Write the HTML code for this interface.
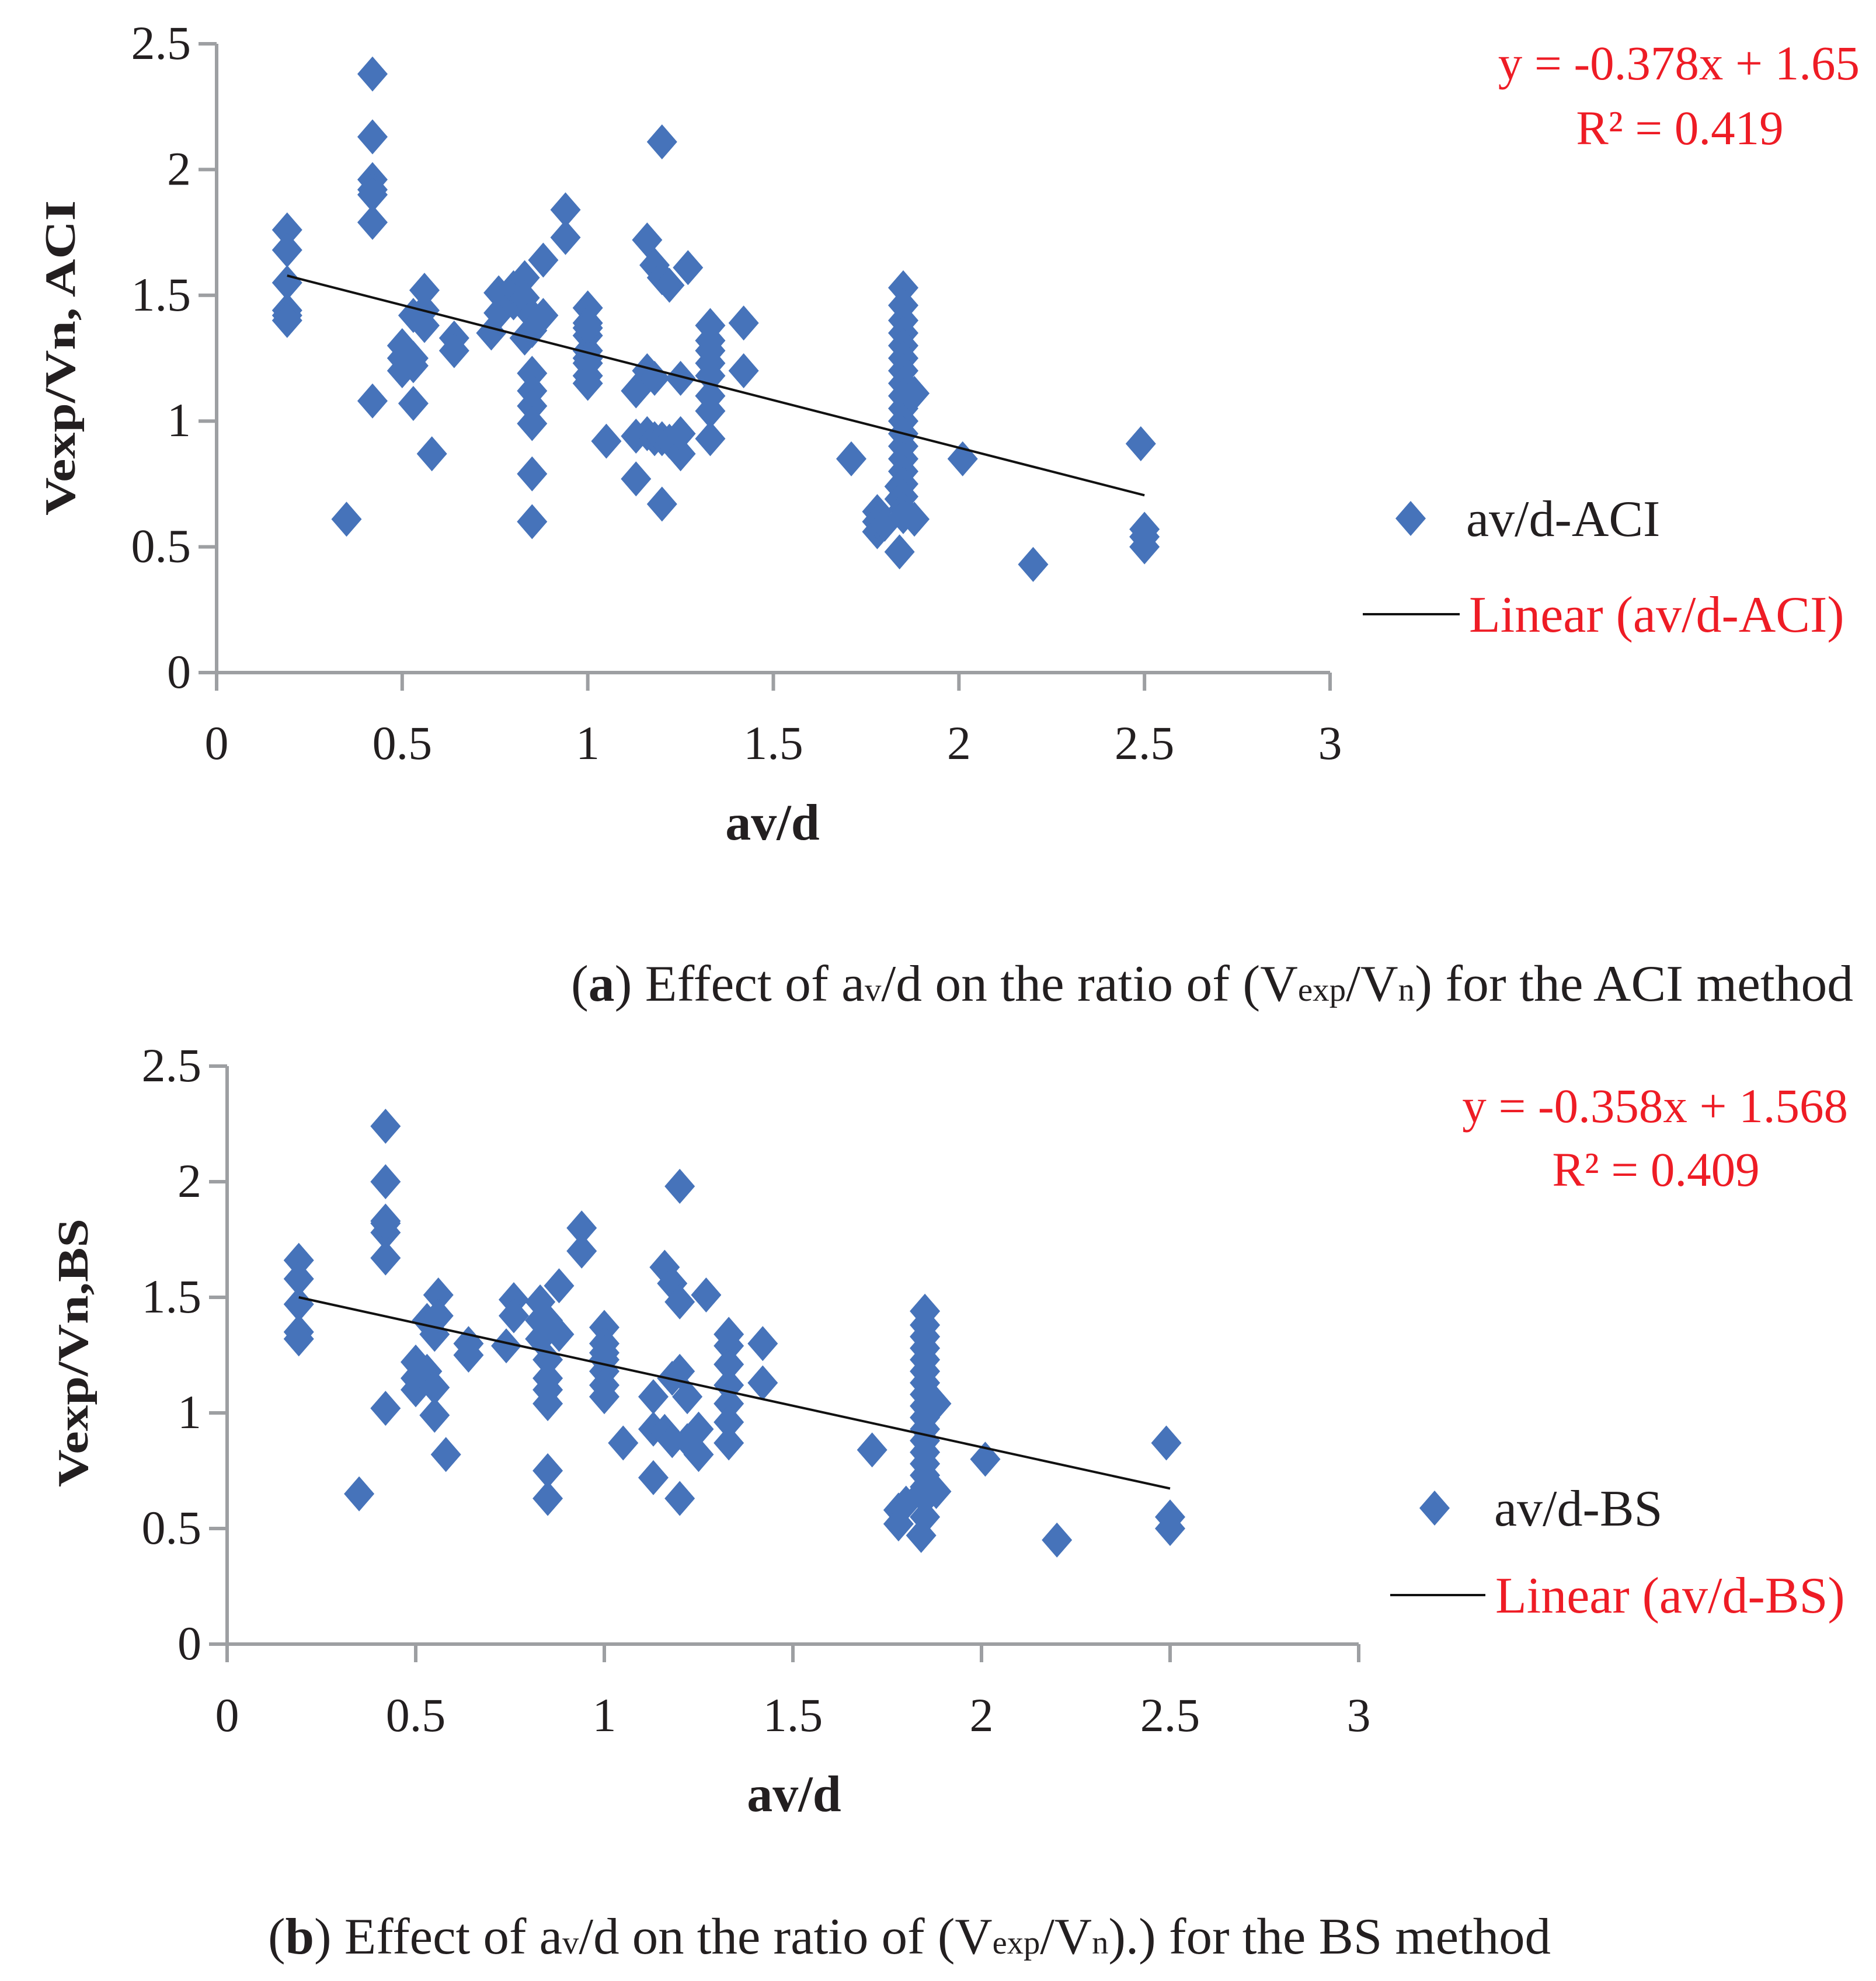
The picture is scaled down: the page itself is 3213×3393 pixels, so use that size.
<!DOCTYPE html>
<html><head><meta charset="utf-8"><style>
html,body{margin:0;padding:0;background:#fff}
svg{display:block}
text{font-family:"Liberation Serif",serif}
</style></head><body>
<svg id="fig" width="3213" height="3393" viewBox="0 0 3213 3393" xmlns="http://www.w3.org/2000/svg">
<g id="chartA"></g>
<g id="chartB"></g>
<text x="978" y="1714" font-size="88" textLength="2196" lengthAdjust="spacingAndGlyphs" fill="#231f20"><tspan>(</tspan><tspan font-weight="bold">a</tspan><tspan>) Effect of a</tspan><tspan font-size="56">v</tspan><tspan>/d on the ratio of (V</tspan><tspan font-size="56">exp</tspan><tspan>/V</tspan><tspan font-size="56">n</tspan><tspan>) for the ACI method</tspan></text>
<text x="459" y="3346" font-size="88" textLength="2197" lengthAdjust="spacingAndGlyphs" fill="#231f20"><tspan>(</tspan><tspan font-weight="bold">b</tspan><tspan>) Effect of a</tspan><tspan font-size="56">v</tspan><tspan>/d on the ratio of (V</tspan><tspan font-size="56">exp</tspan><tspan>/V</tspan><tspan font-size="56">n</tspan><tspan>).) for the BS method</tspan></text>
</svg>
<script>
// Chart A data (ACI)
const aX = [0.19,0.19,0.19,0.19,0.19,0.19,0.35,0.42,0.42,0.42,0.42,0.42,0.42,0.42,0.5,0.5,0.5,0.53,0.53,0.53,0.53,0.56,0.56,0.56,0.58,0.64,0.64,0.74,0.76,0.76,0.8,0.8,0.83,0.83,0.83,0.85,0.85,0.85,0.85,0.85,0.85,0.85,0.85,0.88,0.88,0.94,0.94,1.0,1.0,1.0,1.0,1.0,1.0,1.0,1.0,1.0,1.05,1.13,1.13,1.13,1.16,1.16,1.16,1.18,1.18,1.18,1.2,1.2,1.2,1.2,1.22,1.22,1.25,1.25,1.25,1.27,1.33,1.33,1.33,1.33,1.33,1.33,1.33,1.33,1.42,1.42,1.71,1.78,1.78,1.78,1.8,1.84,1.84,1.84,1.85,1.85,1.85,1.85,1.85,1.85,1.85,1.85,1.85,1.85,1.85,1.85,1.85,1.85,1.85,1.85,1.85,1.85,1.85,1.88,1.88,2.01,2.2,2.49,2.5,2.5,2.5];
const aY = [1.76,1.68,1.55,1.44,1.42,1.40,0.61,2.38,2.13,1.96,1.92,1.90,1.79,1.08,1.30,1.25,1.20,1.42,1.22,1.07,1.25,1.52,1.44,1.38,0.87,1.33,1.28,1.35,1.51,1.43,1.47,1.53,1.57,1.49,1.33,1.19,1.12,1.06,0.99,0.79,0.60,1.42,1.36,1.64,1.42,1.84,1.73,1.45,1.39,1.34,1.28,1.23,1.18,1.15,1.37,1.25,0.92,0.77,0.94,1.12,1.72,0.95,1.20,1.62,0.93,1.17,2.11,1.57,0.67,0.93,1.54,0.92,0.87,0.95,1.17,1.61,1.38,1.32,1.23,1.18,1.10,1.04,0.93,1.28,1.39,1.20,0.85,0.64,0.56,0.60,0.59,0.48,0.69,0.74,1.53,1.46,1.40,1.35,1.30,1.25,1.20,1.15,1.10,1.05,1.00,0.95,0.90,0.85,0.80,0.75,0.70,0.65,0.62,1.11,0.61,0.85,0.43,0.91,0.57,0.54,0.50];
const aTrend = [-0.378, 1.65];
const aEq = ["y = -0.378x + 1.65", "R² = 0.419"];
// Chart B data (BS)
const bX = [0.19,0.19,0.19,0.19,0.19,0.35,0.42,0.42,0.42,0.42,0.42,0.42,0.42,0.5,0.5,0.5,0.53,0.53,0.55,0.55,0.55,0.56,0.56,0.58,0.64,0.64,0.74,0.76,0.76,0.83,0.83,0.83,0.85,0.85,0.85,0.85,0.85,0.85,0.85,0.88,0.88,0.94,0.94,1.0,1.0,1.0,1.0,1.0,1.0,1.0,1.05,1.13,1.13,1.13,1.16,1.16,1.18,1.18,1.18,1.2,1.2,1.2,1.2,1.22,1.22,1.25,1.25,1.27,1.33,1.33,1.33,1.33,1.33,1.33,1.33,1.42,1.42,1.71,1.78,1.78,1.8,1.84,1.84,1.85,1.85,1.85,1.85,1.85,1.85,1.85,1.85,1.85,1.85,1.85,1.85,1.85,1.85,1.85,1.85,1.85,1.85,1.88,1.88,2.01,2.2,2.49,2.5,2.5];
const bY = [1.66,1.58,1.47,1.35,1.32,0.65,2.24,2.00,1.83,1.78,1.67,1.02,1.82,1.22,1.15,1.10,1.18,1.40,0.99,1.11,1.34,1.51,1.42,0.82,1.30,1.25,1.29,1.49,1.42,1.48,1.40,1.32,1.23,1.15,1.10,1.04,0.75,0.63,1.40,1.34,1.55,1.80,1.70,1.37,1.30,1.23,1.18,1.12,1.07,1.26,0.87,0.72,1.07,0.93,1.63,0.92,1.56,1.15,0.88,1.98,1.18,0.63,1.48,0.88,1.07,0.82,0.93,1.51,1.29,1.21,1.12,1.04,0.96,0.87,1.34,1.30,1.13,0.84,0.58,0.52,0.61,0.47,0.65,1.44,1.38,1.33,1.28,1.23,1.18,1.13,1.08,1.03,0.98,0.93,0.88,0.83,0.78,0.73,0.68,0.63,0.55,1.04,0.66,0.80,0.45,0.87,0.55,0.50];
const bTrend = [-0.358, 1.568];
const bEq = ["y = -0.358x + 1.568", "R² = 0.409"];
const xTicks = [0,0.5,1,1.5,2,2.5,3];
const yTicks = [0,0.5,1,1.5,2,2.5];

const NS = "http://www.w3.org/2000/svg";
function mk(parent, tag, attrs, txt){
  const e = document.createElementNS(NS, tag);
  for (const k in attrs) e.setAttribute(k, attrs[k]);
  if (txt !== undefined) e.textContent = txt;
  parent.appendChild(e);
  return e;
}
function draw(g, cfg, xs, ys, trend, eq){
  const sx = v => cfg.x0 + (cfg.x3 - cfg.x0) * v / 3;
  const sy = v => cfg.y0 - (cfg.y0 - cfg.yTop) * v / 2.5;
  const ax = mk(g,'line',{x1:cfg.x0,y1:cfg.yTop,x2:cfg.x0,y2:cfg.y0,stroke:'#9d9fa2','stroke-width':6});
  
  
  const ax2 = mk(g,'line',{x1:cfg.x0-31,y1:cfg.y0,x2:cfg.x3,y2:cfg.y0,stroke:'#9d9fa2','stroke-width':6});
  
  
  yTicks.forEach(t=>{
    const l = mk(g,'line',{x1:cfg.x0-31,y1:sy(t),x2:cfg.x0,y2:sy(t),stroke:'#9d9fa2','stroke-width':6});
    
    
    const tx = mk(g,'text',{x:cfg.x0-44,y:sy(t)+26,'font-size':82,'text-anchor':'end',fill:'#231f20'},String(t));
    
    
  });
  xTicks.forEach(t=>{
    const l = mk(g,'line',{x1:sx(t),y1:cfg.y0,x2:sx(t),y2:cfg.y0+31,stroke:'#9d9fa2','stroke-width':6});
    
    
    const tx = mk(g,'text',{x:sx(t),y:cfg.xLabY+4,'font-size':82,'text-anchor':'middle',fill:'#231f20'},String(t));
    
    
  });
  const xt = mk(g,'text',{x:cfg.xTitle[0],y:cfg.xTitle[1]+4,'font-size':88,'font-weight':'bold','text-anchor':'middle',fill:'#231f20'},'av/d');
  
  
  const yt = mk(g,'text',{x:0,y:0,'font-size':74,'font-weight':'bold','text-anchor':'middle',fill:'#231f20',transform:`translate(${cfg.yTitle[0]},${cfg.yTitle[1]}) rotate(-90)`,textLength:cfg.yTitleLen,lengthAdjust:'spacingAndGlyphs'},cfg.yTitleText);
  
  
  xs.forEach((xv,i)=>{
    const cx = sx(xv), cy = sy(ys[i]);
    const p = mk(g,'polygon',{points:`${cx},${cy-30} ${cx+26},${cy} ${cx},${cy+30} ${cx-26},${cy}`,fill:'#4673ba'});
    
    
  });
  const f = v => trend[0]*v + trend[1];
  const tl = mk(g,'line',{x1:sx(0.19),y1:sy(f(0.19)),x2:sx(2.5),y2:sy(f(2.5)),stroke:'#111','stroke-width':4});
  
  
  const e1 = mk(g,'text',{x:cfg.eq1[0],y:cfg.eq1[1]+4,'font-size':83,'text-anchor':'end',fill:'#ee1c25'},eq[0]);
  
  
  const e2 = mk(g,'text',{x:cfg.eq2[0],y:cfg.eq2[1]+4,'font-size':83,'text-anchor':'middle',fill:'#ee1c25'},eq[1]);
  
  
  const ld = cfg.legD;
  const lm = mk(g,'polygon',{points:`${ld[0]},${ld[1]-30} ${ld[0]+26},${ld[1]} ${ld[0]},${ld[1]+30} ${ld[0]-26},${ld[1]}`,fill:'#4673ba'});
  
  
  const lt = mk(g,'text',{x:cfg.legT[0],y:cfg.legT[1]+6,'font-size':88,fill:'#231f20'},cfg.series);
  
  
  const ll = mk(g,'line',{x1:cfg.legL[0],y1:cfg.legL[2],x2:cfg.legL[1],y2:cfg.legL[2],stroke:'#111','stroke-width':4});
  
  
  const lt2 = mk(g,'text',{x:cfg.legT2[0],y:cfg.legT2[1]+6,'font-size':88,fill:'#ee1c25'},'Linear ('+cfg.series+')');
  
  
}
draw(document.getElementById('chartA'),{x0:371,x3:2278,y0:1152,yTop:75,xLabY:1296,xTitle:[1323,1434],yTitle:[128,613],yTitleText:'Vexp/Vn, ACI',yTitleLen:540,eq1:[3185,132],eq2:[2877,243],legD:[2416,888],legT:[2511,912],legL:[2334,2500,1052],legT2:[2516,1076],series:'av/d-ACI'},aX,aY,aTrend,aEq);
draw(document.getElementById('chartB'),{x0:389,x3:2327,y0:2816,yTop:1826,xLabY:2961,xTitle:[1360,3098],yTitle:[150,2317],yTitleText:'Vexp/Vn,BS',yTitleLen:460,eq1:[3165,1918],eq2:[2836,2027],legD:[2457,2583],legT:[2559,2607],legL:[2381,2544,2732],legT2:[2561,2756],series:'av/d-BS'},bX,bY,bTrend,bEq);
</script>
</body></html>
